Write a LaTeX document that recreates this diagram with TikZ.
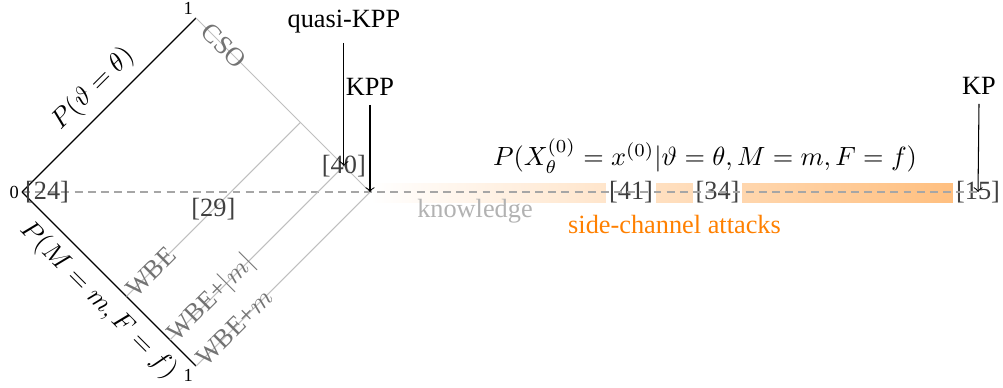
\documentclass[tikz,border=0pt]{standalone}
\usepackage{fontspec}
\setmainfont{Liberation Serif}
\usetikzlibrary{calc}
\begin{document}
\begin{tikzpicture}[x=0.38pt,y=-0.38pt,
  cite/.style={text=black!75, inner sep=1pt},
  axisline/.style={black, line width=0.5pt},
  guide/.style={black!25, line width=0.4pt},
  lbl/.style={text=black!55, sloped, inner sep=0pt},
  tick/.style={font=\scriptsize, inner sep=1pt},
  pointer/.style={->, black, line width=0.4pt},
  baseline dash/.style={black!35, line width=0.5pt, dash pattern=on 3pt off 2pt},
]
\useasboundingbox (0,0) rectangle (1003,388);
\coordinate (L) at (22,192);
\coordinate (T) at (196,18);
\coordinate (R) at (370,192);
\coordinate (B) at (196,366);
\coordinate (a1) at (126.4,296.4);
\coordinate (b1) at (300.4,122.4);
\coordinate (a2) at (169.9,339.9);
\coordinate (b2) at (343.9,165.9);
% band
\node[cite] (n15) at (978,192) {[15]};
\shade[left color=white, right color=orange!50] (R |- 0,183) rectangle (n15.west |- 0,202);
\node[cite, fill=white] (n41) at (631,192) {[41]};
\node[cite, fill=white] (n34) at (717.5,192) {[34]};
\draw[baseline dash] (L) -- (n15.center);
% diamond
\draw[axisline] (L) -- node[midway, above, sloped] {$P(\vartheta=\theta)$} (T);
\draw[axisline] (L) -- node[pos=0.53, below, sloped] {$P(M=m,F=f)$} (B);
\draw[guide] (T) -- node[lbl, pos=0.16] {CSO} (R);
\draw[guide] (a1) -- node[lbl, pos=0.14] {WBE} (b1);
\draw[guide] (a2) -- node[lbl, pos=0.24] {WBE+$|m|$} (b2);
\draw[guide] (B) -- node[lbl, pos=0.22] {WBE+$m$} (R);
\node[tick, anchor=east] (z0) at (L) {0};
\node[tick, anchor=south east] (t1) at (T) {1};
\node[tick, anchor=north east] (b1l) at (B) {1};
\node[cite, anchor=west] (n24) at (L) {[24]};
\node[cite] (n29) at (213.4,209.4) {[29]};
\node[cite] (n40) at (b2) {[40]};
% texts
\node (fx) at (705,156) {$P(X_\theta^{(0)}=x^{(0)}|\vartheta=\theta,M=m,F=f)$};
\node[text=black!30] (kn) at (475,211) {knowledge};
\node[text=orange] (sca) at (674.5,224) {side-channel attacks};
\node (qkpp) at (343.9,22) {quasi-KPP};
\node (kpp) at (370,87) {KPP};
\node (kp) at (979,86) {KP};
\draw[pointer] (qkpp.south) -- (n40.center);
\draw[pointer] (kpp.south) -- (R);
\draw[pointer] (kp.south) -- (n15.center);
\end{tikzpicture}
\end{document}
